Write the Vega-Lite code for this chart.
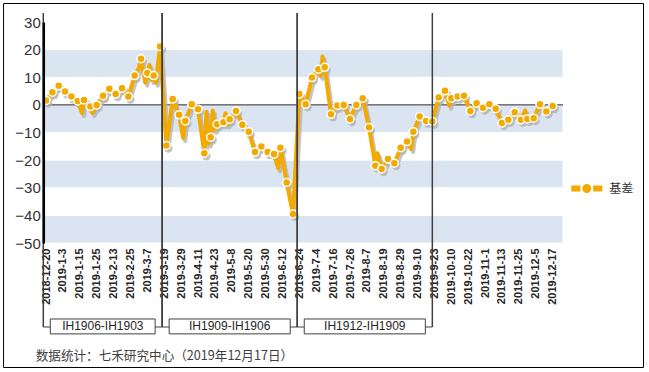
{
  "$schema": "https://vega.github.io/schema/vega-lite/v6.json",
  "autosize": {"type": "none"},
  "padding": {"left": 43.3, "top": 22, "right": 86, "bottom": 129},
  "width": 519.7,
  "height": 221,
  "background": "white",
  "config": {"view": {"stroke": null}, "font": "Liberation Sans"},
  "datasets": {
    "basis": [
      {"d": 0, "v": 1.6}, {"d": 3, "v": 4.6}, {"d": 6, "v": 6.9}, {"d": 9, "v": 4.8},
      {"d": 12, "v": 3.0}, {"d": 15, "v": 1.4}, {"d": 17, "v": -3.0}, {"d": 18, "v": 1.8},
      {"d": 21, "v": -0.6}, {"d": 22, "v": -3.0}, {"d": 24, "v": 0}, {"d": 27, "v": 3.3},
      {"d": 30, "v": 5.8}, {"d": 33, "v": 3.9}, {"d": 36, "v": 6.0}, {"d": 39, "v": 3.0},
      {"d": 42, "v": 10.6}, {"d": 44, "v": 13.5}, {"d": 45, "v": 16.7}, {"d": 47, "v": 8.0},
      {"d": 48, "v": 11.5}, {"d": 49, "v": 14.5}, {"d": 50, "v": 9.0}, {"d": 51, "v": 10.6},
      {"d": 52, "v": 8.0}, {"d": 54, "v": 21.1}, {"d": 57, "v": -14.7}, {"d": 60, "v": 2.1},
      {"d": 63, "v": -3.6}, {"d": 65, "v": -12}, {"d": 66, "v": -5.8}, {"d": 69, "v": 0.2},
      {"d": 72, "v": -1.6}, {"d": 75, "v": -17.5}, {"d": 76, "v": -2.5}, {"d": 77, "v": -14},
      {"d": 78, "v": -11.7}, {"d": 79, "v": -2}, {"d": 80, "v": -9}, {"d": 81, "v": -7.0},
      {"d": 84, "v": -6.3}, {"d": 85, "v": -3}, {"d": 86, "v": -7}, {"d": 87, "v": -5.2},
      {"d": 90, "v": -2.2}, {"d": 93, "v": -7.2}, {"d": 96, "v": -9.7}, {"d": 99, "v": -17.1},
      {"d": 102, "v": -15.1}, {"d": 105, "v": -17.1}, {"d": 108, "v": -17.8}, {"d": 110, "v": -23},
      {"d": 111, "v": -15.5}, {"d": 114, "v": -28.1}, {"d": 117, "v": -39.5}, {"d": 120, "v": 3.9},
      {"d": 123, "v": 0.2}, {"d": 126, "v": 9.9}, {"d": 129, "v": 12.9}, {"d": 130, "v": 10.5},
      {"d": 131, "v": 17.5}, {"d": 132, "v": 13.6}, {"d": 135, "v": -3.4}, {"d": 138, "v": -0.2},
      {"d": 141, "v": 0}, {"d": 144, "v": -5.1}, {"d": 147, "v": 0}, {"d": 150, "v": 2.4},
      {"d": 153, "v": -8.2}, {"d": 156, "v": -22}, {"d": 157, "v": -17.5}, {"d": 159, "v": -23.2},
      {"d": 162, "v": -19.6}, {"d": 165, "v": -21.1}, {"d": 168, "v": -15.5}, {"d": 171, "v": -13.3},
      {"d": 173, "v": -16}, {"d": 174, "v": -9.7}, {"d": 177, "v": -4.2}, {"d": 180, "v": -5.8},
      {"d": 183, "v": -6.0}, {"d": 186, "v": 2.7}, {"d": 189, "v": 5.1}, {"d": 191, "v": -0.3},
      {"d": 192, "v": 2.4}, {"d": 195, "v": 3.0}, {"d": 198, "v": 3.3}, {"d": 201, "v": -2.2},
      {"d": 204, "v": 0.6}, {"d": 207, "v": -1.0}, {"d": 210, "v": 0.2}, {"d": 213, "v": -1.4},
      {"d": 216, "v": -6.6}, {"d": 219, "v": -5.4}, {"d": 222, "v": -2.7}, {"d": 225, "v": -5.4},
      {"d": 227, "v": -2}, {"d": 228, "v": -5.1}, {"d": 231, "v": -4.8}, {"d": 234, "v": 0.2},
      {"d": 237, "v": -2.4}, {"d": 240, "v": -0.4}
    ],
    "contracts": [
      {"contract": "IH1906-IH1903", "from": -1.3, "to": 55, "mid": 26.9},
      {"contract": "IH1909-IH1906", "from": 55, "to": 119, "mid": 87},
      {"contract": "IH1912-IH1909", "from": 119, "to": 183, "mid": 151}
    ],
    "bands": [
      {"lo": 10, "hi": 20}, {"lo": -10, "hi": 0}, {"lo": -30, "hi": -20}, {"lo": -50, "hi": -40}
    ],
    "notes": [
      {"note": "数据统计：七禾研究中心（2019年12月17日）"}
    ]
  },
  "encoding": {
    "x": {
      "type": "quantitative",
      "scale": {"domain": [-1.3, 244.9], "nice": false, "zero": false},
      "axis": {
        "title": null,
        "values": [0, 8, 16, 24, 32, 40, 48, 56, 64, 72, 80, 88, 96, 104, 112, 120, 128, 136, 144, 152, 160, 168, 176, 184, 192, 200, 208, 216, 224, 232, 240],
        "labelExpr": "['2018-12-20','2019-1-3','2019-1-15','2019-1-25','2019-2-13','2019-2-25','2019-3-7','2019-3-19','2019-3-29','2019-4-11','2019-4-23','2019-5-8','2019-5-20','2019-5-30','2019-6-12','2019-6-24','2019-7-4','2019-7-16','2019-7-26','2019-8-7','2019-8-19','2019-8-29','2019-9-10','2019-9-23','2019-10-10','2019-10-22','2019-11-1','2019-11-13','2019-11-25','2019-12-5','2019-12-17'][round(datum.value/8)]",
        "labelAngle": -90,
        "labelAlign": "right",
        "labelBaseline": "middle",
        "labelPadding": 5,
        "labelFont": "Liberation Sans",
        "labelFontSize": 11,
        "labelFontWeight": "bold",
        "labelColor": "#262626",
        "labelOverlap": false,
        "labelBound": false,
        "labelFlush": false,
        "domain": false,
        "ticks": false,
        "grid": false
      }
    },
    "y": {
      "type": "quantitative",
      "scale": {"domain": [-50, 30], "nice": false, "zero": false},
      "axis": {
        "title": null,
        "values": [-50, -40, -30, -20, -10, 0, 10, 20, 30],
        "labelFont": "Liberation Sans",
        "labelFontSize": 15,
        "labelColor": "#333333",
        "labelPadding": 3,
        "ticks": false,
        "grid": false,
        "domain": true,
        "domainColor": "#000000",
        "domainWidth": 2.5,
        "zindex": 1
      }
    }
  },
  "layer": [
    {
      "data": {"name": "notes"},
      "mark": {"type": "rect", "clip": false, "fill": "transparent", "stroke": "#000000", "strokeWidth": 1},
      "encoding": {
        "x": {"datum": -20.13},
        "x2": {"datum": 283.05},
        "y": {"datum": 36.7},
        "y2": {"datum": -95.07}
      }
    },
    {
      "data": {"name": "bands"},
      "mark": {"type": "rect", "fill": "#dbe5f1", "stroke": "#ffffff", "strokeWidth": 1},
      "encoding": {
        "y": {"field": "lo", "type": "quantitative"},
        "y2": {"field": "hi"}
      }
    },
    {
      "data": {"name": "notes"},
      "mark": {"type": "rule", "color": "#262626", "strokeWidth": 1},
      "encoding": {"y": {"datum": 0}}
    },
    {
      "data": {"name": "basis"},
      "mark": {"type": "line", "color": "#b0b0b0", "opacity": 0.75, "strokeWidth": 4, "strokeJoin": "round", "xOffset": 2, "yOffset": 3},
      "encoding": {
        "x": {"field": "d", "type": "quantitative"},
        "y": {"field": "v", "type": "quantitative"}
      }
    },
    {
      "data": {"name": "basis"},
      "transform": [{"filter": "datum.d % 3 == 0"}],
      "mark": {"type": "point", "shape": "circle", "filled": true, "color": "#b0b0b0", "opacity": 0.75, "size": 70, "xOffset": 2, "yOffset": 3},
      "encoding": {
        "x": {"field": "d", "type": "quantitative"},
        "y": {"field": "v", "type": "quantitative"}
      }
    },
    {
      "data": {"name": "basis"},
      "mark": {"type": "line", "color": "#f2a900", "strokeWidth": 4, "strokeJoin": "round"},
      "encoding": {
        "x": {"field": "d", "type": "quantitative"},
        "y": {"field": "v", "type": "quantitative"}
      }
    },
    {
      "data": {"name": "basis"},
      "transform": [{"filter": "datum.d % 3 == 0"}],
      "mark": {"type": "point", "shape": "circle", "filled": true, "opacity": 1, "size": 64, "stroke": "#ffffff", "strokeWidth": 1.5},
      "encoding": {
        "x": {"field": "d", "type": "quantitative"},
        "y": {"field": "v", "type": "quantitative"},
        "color": {
          "datum": "基差",
          "type": "nominal",
          "scale": {"range": ["#f2a900"]},
          "legend": {
            "title": null,
            "orient": "none",
            "legendX": 528,
            "legendY": 151,
            "padding": 0,
            "symbolType": "M-1,-0.19L-0.41,-0.19L-0.41,0.19L-1,0.19Z M0.41,-0.19L1,-0.19L1,0.19L0.41,0.19Z M-0.29,0A0.29,0.29 0 1,0 0.29,0A0.29,0.29 0 1,0 -0.29,0Z",
            "symbolSize": 961,
            "symbolFillColor": "#f2a900",
            "symbolStrokeColor": "#f2a900",
            "symbolStrokeWidth": 0,
            "symbolOpacity": 1,
            "labelFont": "Noto Sans CJK SC",
            "labelFontSize": 12,
            "labelColor": "#333333",
            "labelOffset": 7
          }
        }
      }
    },
    {
      "data": {"name": "contracts"},
      "mark": {"type": "rule", "clip": false, "color": "#404040", "strokeWidth": 1.5},
      "encoding": {
        "x": {"field": "from", "type": "quantitative"},
        "y": {"datum": 33.3},
        "y2": {"datum": -80.4}
      }
    },
    {
      "data": {"name": "contracts"},
      "mark": {"type": "rule", "clip": false, "color": "#404040", "strokeWidth": 1.5},
      "encoding": {
        "x": {"field": "to", "type": "quantitative"},
        "y": {"datum": 33.3},
        "y2": {"datum": -80.4}
      }
    },
    {
      "data": {"name": "contracts"},
      "mark": {"type": "rule", "clip": false, "color": "#404040", "strokeWidth": 1.2},
      "encoding": {
        "x": {"field": "from", "type": "quantitative"},
        "x2": {"field": "to"},
        "y": {"datum": -80.4}
      }
    },
    {
      "data": {"name": "contracts"},
      "mark": {"type": "rect", "clip": false, "fill": "#ffffff", "stroke": "#404040", "strokeWidth": 1, "xOffset": 7, "x2Offset": -7},
      "encoding": {
        "x": {"field": "from", "type": "quantitative"},
        "x2": {"field": "to"},
        "y": {"datum": -77.5},
        "y2": {"datum": -82.9}
      }
    },
    {
      "data": {"name": "contracts"},
      "mark": {"type": "text", "clip": false, "font": "Liberation Sans", "fontSize": 12, "color": "#262626", "align": "center", "baseline": "middle"},
      "encoding": {
        "x": {"field": "mid", "type": "quantitative"},
        "y": {"datum": -80.2},
        "text": {"field": "contract"}
      }
    },
    {
      "data": {"name": "notes"},
      "mark": {"type": "text", "clip": false, "font": "Noto Sans CJK SC", "fontSize": 12.6, "color": "#404040", "align": "left", "baseline": "middle"},
      "encoding": {
        "x": {"datum": -4.9},
        "y": {"datum": -90.9},
        "text": {"field": "note"}
      }
    }
  ]
}
